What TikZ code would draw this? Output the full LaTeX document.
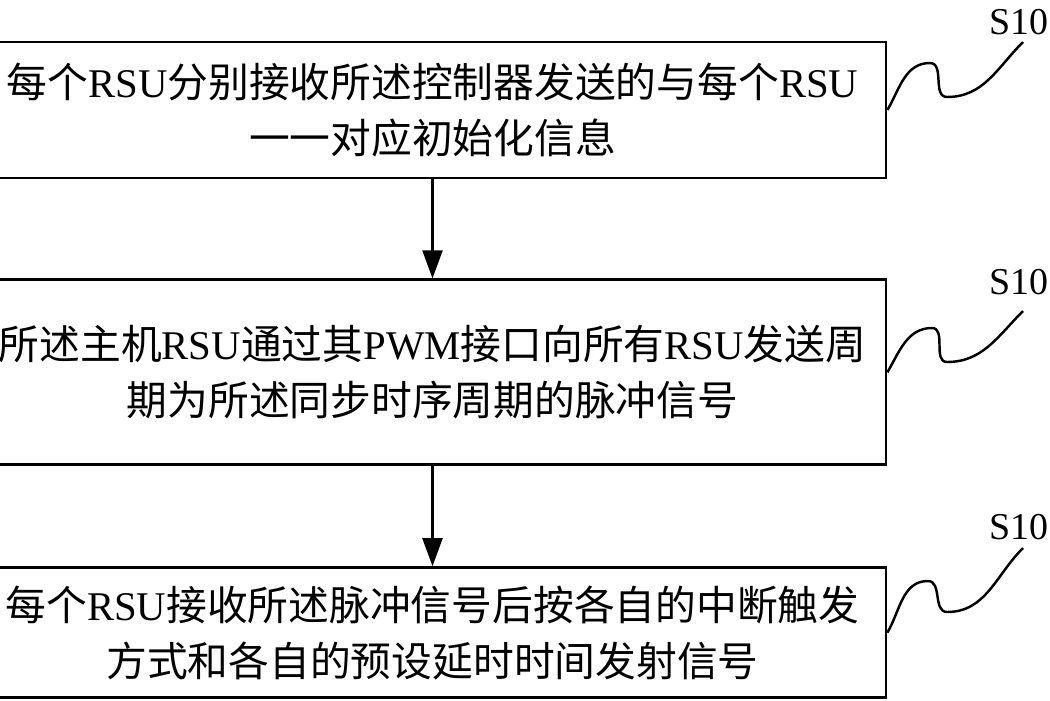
\documentclass[tikz,border=0pt]{standalone}
\usepackage{fontspec}
\setmainfont{Noto Sans CJK SC}
\newfontfamily\lat{Liberation Serif}
\usepackage{tikz}
\usetikzlibrary{arrows.meta}
\usetikzlibrary{positioning}

\begin{document}
\begin{tikzpicture}[
    stepbox/.style={draw, line width=0.8pt, minimum width=9.07cm, align=center,
        font=\fontsize{11.6}{16}\selectfont},
    flow/.style={-{Triangle[length=2.8mm,width=2mm]}, line width=0.6pt},
    wave/.style={line width=0.7pt},
    tag/.style={font=\lat\fontsize{10.8}{12}\selectfont, inner sep=0pt}]
    \useasboundingbox (0,0) rectangle (10.5,7);
    % steps
    \node[stepbox, minimum height=1.36cm] (b1) at (4.325,5.90)
        {每个{\lat RSU}分别接收所述控制器发送的与每个{\lat RSU}\\一一对应初始化信息};
    \node[stepbox, minimum height=1.85cm, below=0.99cm of b1] (b2)
        {所述主机{\lat RSU}通过其{\lat PWM}接口向所有{\lat RSU}发送周\\期为所述同步时序周期的脉冲信号};
    \node[stepbox, minimum height=1.30cm, below=1.0cm of b2] (b3)
        {每个{\lat RSU}接收所述脉冲信号后按各自的中断触发\\方式和各自的预设延时时间发射信号};
    \draw[flow] (b1) -- (b2);
    \draw[flow] (b2) -- (b3);
    % step labels
    \node[tag] (l1) at (10.19,6.78) {S10};
    \node[tag] (l2) at (10.19,4.18) {S10};
    \node[tag] (l3) at (10.19,1.73) {S10};
    \coordinate (e1) at (10.23,6.58);
    \coordinate (e2) at (10.23,3.89);
    \coordinate (e3) at (10.23,1.52);
    \draw[wave] (b1.east) to[out=60,in=180] (9.30,6.37) to[out=0,in=180] (9.47,6.03) to[out=0,in=225] (e1);
    \draw[wave] (b2.east) to[out=60,in=180] (9.32,3.72) to[out=0,in=180] (9.47,3.38) to[out=0,in=225] (e2);
    \draw[wave] (b3.east) to[out=60,in=180] (9.28,1.19) to[out=0,in=180] (9.47,0.88) to[out=0,in=225] (e3);
\end{tikzpicture}
\end{document}
